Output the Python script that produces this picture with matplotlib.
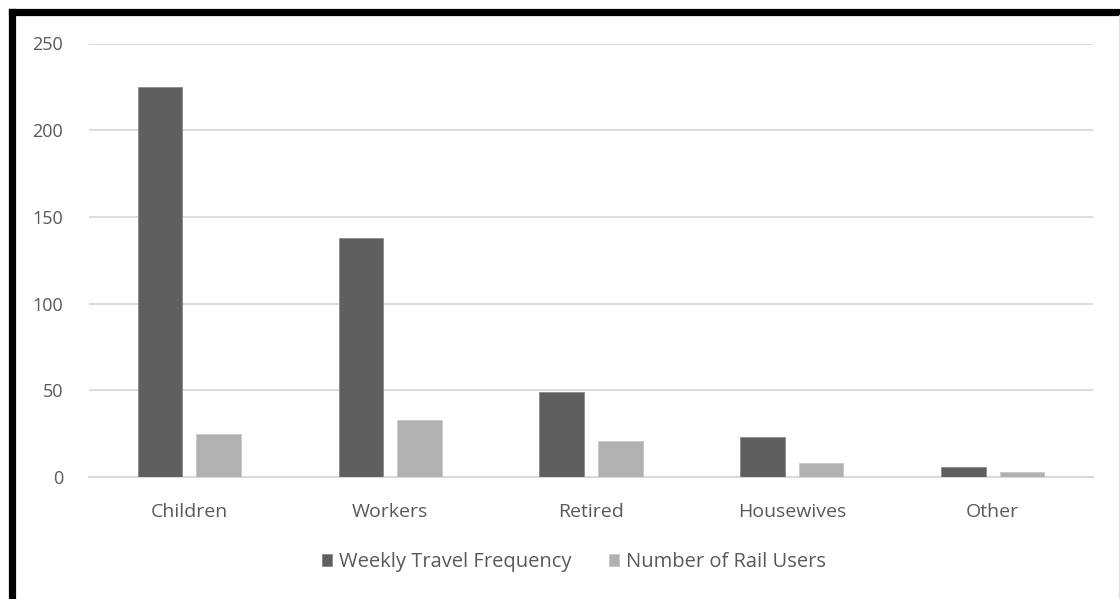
import numpy as np
import matplotlib.pyplot as plt
from matplotlib.lines import Line2D

# rail survey: travel frequency and rail users by passenger group
groups = ['Children', 'Workers', 'Retired', 'Housewives', 'Other']
weekly_travel = [225, 138, 49, 23, 6]
rail_users = [25, 33, 21, 8, 3]
series_names = ['Weekly Travel Frequency', 'Number of Rail Users']
y_ticks = [0, 50, 100, 150, 200, 250]

dark = '#5f5f5f'
light = '#b1b1b1'
text_col = '#595959'
grid_col = '#d9d9d9'

plt.rcParams['font.family'] = ['Open Sans', 'DejaVu Sans']

fig = plt.figure(figsize=(11.2, 5.99), dpi=100)
ax = fig.add_axes([89 / 1120, 122 / 599, 1004 / 1120, 433.5 / 599])

x = np.arange(len(groups))
w = 0.222
off = 0.146
ax.bar(x - off, weekly_travel, w, color=dark, edgecolor='#8a8a8a', linewidth=0.6,
       label=series_names[0], zorder=3)
ax.bar(x + off, rail_users, w, color=light, edgecolor='#c8c8c8', linewidth=0.6,
       label=series_names[1], zorder=3)

ax.set_xlim(-0.5, len(groups) - 0.5)
ax.set_ylim(0, 250)
ax.set_yticks(y_ticks)
ax.set_xticks(x)
ax.set_xticklabels(groups)
ax.tick_params(axis='y', length=0, labelsize=13, labelcolor=text_col, pad=18.5)
ax.tick_params(axis='x', length=0, labelsize=14, labelcolor=text_col, pad=18.5)
ax.yaxis.grid(True, color=grid_col, linewidth=1.3, zorder=0)
for s in ['top', 'right', 'left']:
    ax.spines[s].set_visible(False)
ax.spines['bottom'].set_color(grid_col)
ax.spines['bottom'].set_linewidth(1.5)

leg = fig.legend(loc='center', bbox_to_anchor=(574 / 1120, 37 / 599), ncol=2,
                 frameon=False, fontsize=14.5, handlelength=0.5, handleheight=0.5,
                 handletextpad=0.35, columnspacing=1.9)
for t in leg.get_texts():
    t.set_color(text_col)

# black frame around the chart, running off the right and bottom edges
fig.add_artist(Line2D([12 / 1120, 12 / 1120], [0, 1 - 11.5 / 599], color='black',
                      linewidth=5.2, solid_capstyle='projecting', transform=fig.transFigure))
fig.add_artist(Line2D([12 / 1120, 1.0], [1 - 11.5 / 599, 1 - 11.5 / 599], color='black',
                      linewidth=5.2, solid_capstyle='projecting', transform=fig.transFigure))
fig.add_artist(Line2D([1119 / 1120, 1119 / 1120], [0, 1 - 15 / 599], color='#e0e0e0',
                      linewidth=0.8, transform=fig.transFigure))

fig.savefig('out.png', dpi=100)
